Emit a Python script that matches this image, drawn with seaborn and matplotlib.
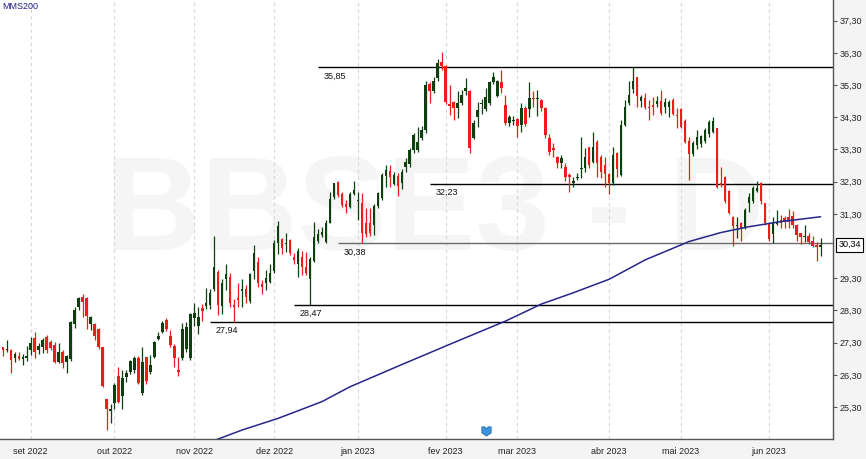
import numpy as np
import pandas as pd
import matplotlib
matplotlib.use("Agg")
import matplotlib.pyplot as plt
import matplotlib.transforms as mtransforms
from matplotlib.path import Path
import seaborn as sns

# BBSE3 daily candles, 23/08/2022 .. 21/06/2023
opens = [
    27.16, 27.07, 27.07, 26.81, 26.89, 26.78, 26.83, 27.06, 27.44, 27.06,
    27.16, 27.47, 27.33, 27.23, 26.71, 27.02, 26.71, 26.78, 27.88, 28.42,
    28.73, 28.70, 27.88, 27.88, 27.72, 27.16, 25.54, 25.18, 25.42, 26.27,
    25.65, 26.23, 26.40, 26.45, 26.81, 25.73, 26.85, 26.40, 26.85, 27.40,
    27.64, 28.01, 27.51, 27.20, 26.46, 26.82, 27.10, 26.82, 28.06, 27.82,
    28.37, 28.44, 28.47, 28.96, 29.51, 28.44, 29.27, 29.33, 28.47, 28.68,
    28.91, 28.96, 28.60, 29.54, 29.82, 29.12, 29.14, 29.19, 29.54, 30.41,
    30.51, 30.36, 30.48, 29.95, 29.74, 29.97, 29.66, 29.27, 29.85, 30.47,
    30.65, 30.44, 31.03, 31.83, 32.30, 31.92, 31.61, 31.52, 31.92, 31.70,
    31.64, 31.01, 31.03, 30.96, 31.55, 31.79, 32.48, 32.64, 32.23, 32.48,
    32.25, 32.77, 32.85, 33.29, 33.29, 33.65, 33.89, 35.33, 35.10, 35.51,
    36.03, 35.89, 34.71, 34.78, 34.58, 34.75, 35.13, 35.13, 33.65, 34.30,
    34.71, 34.55, 34.74, 35.38, 34.96, 35.38, 34.68, 34.13, 34.18, 34.24,
    34.06, 34.58, 34.55, 34.89, 34.86, 34.84, 34.58, 33.65, 33.34, 33.08,
    32.89, 32.75, 32.51, 32.27, 32.40, 32.69, 32.72, 33.37, 32.92, 33.54,
    33.06, 32.82, 32.54, 32.27, 33.20, 32.51, 34.06, 34.74, 35.17, 35.54,
    34.81, 34.89, 34.61, 34.68, 34.71, 34.81, 34.61, 34.61, 34.84, 34.37,
    34.55, 34.19, 33.57, 33.16, 33.44, 33.47, 33.57, 33.78, 33.85, 33.96,
    32.27, 32.46, 32.02, 31.21, 30.92, 31.03, 30.85, 31.65, 31.71, 32.02,
    32.27, 31.63, 31.03, 30.68, 30.98, 31.11, 31.16, 31.21, 31.23, 30.95,
    30.70, 30.57, 30.61, 30.47, 30.33, 30.26,
]
highs = [
    27.18, 27.37, 27.11, 27.02, 27.02, 26.95, 27.19, 27.47, 27.64, 27.30,
    27.44, 27.53, 27.38, 27.33, 27.28, 27.07, 26.92, 27.98, 28.40, 28.73,
    28.81, 28.73, 28.14, 27.90, 27.75, 27.16, 25.56, 25.40, 26.06, 26.54,
    26.45, 26.45, 26.76, 26.89, 26.89, 27.18, 26.87, 26.92, 27.36, 27.64,
    27.98, 28.06, 27.69, 27.26, 26.85, 27.92, 27.95, 28.23, 28.52, 28.40,
    28.50, 28.99, 28.96, 30.61, 29.56, 29.27, 29.74, 29.45, 28.65, 29.16,
    29.27, 29.09, 29.45, 30.33, 29.95, 29.25, 29.56, 29.74, 30.49, 31.09,
    30.54, 30.70, 30.52, 30.08, 30.23, 30.16, 30.13, 29.97, 31.06, 30.82,
    30.90, 31.11, 31.99, 32.27, 32.33, 31.99, 31.73, 31.99, 32.33, 31.99,
    31.96, 31.47, 31.47, 31.61, 31.99, 32.58, 32.82, 32.82, 32.61, 32.58,
    32.69, 33.03, 33.34, 33.80, 33.99, 34.03, 35.41, 35.38, 35.54, 36.10,
    36.31, 35.92, 35.30, 34.81, 35.10, 35.15, 35.51, 35.15, 34.22, 34.78,
    34.86, 35.20, 35.41, 35.72, 35.46, 35.77, 34.99, 34.37, 34.34, 34.27,
    34.74, 34.65, 35.38, 35.10, 35.15, 34.86, 34.63, 33.78, 33.51, 33.10,
    33.13, 32.87, 32.56, 32.44, 32.56, 33.70, 33.34, 33.39, 33.85, 33.60,
    33.13, 33.08, 32.58, 33.37, 33.23, 34.22, 34.84, 35.44, 35.85, 35.56,
    34.99, 35.06, 34.84, 34.92, 34.96, 35.15, 34.89, 34.84, 34.89, 34.58,
    34.58, 34.24, 33.68, 33.57, 33.91, 33.75, 33.96, 34.22, 34.30, 33.96,
    32.75, 32.48, 32.04, 31.23, 31.19, 31.06, 31.47, 31.94, 32.17, 32.33,
    32.30, 31.65, 31.06, 31.19, 31.42, 31.27, 31.23, 31.44, 31.40, 30.98,
    30.72, 30.95, 30.72, 30.61, 30.44, 30.54,
]
lows = [
    26.88, 27.02, 26.37, 26.71, 26.76, 26.61, 26.74, 26.92, 26.82, 26.95,
    26.97, 26.97, 27.07, 26.68, 26.66, 26.51, 26.37, 26.74, 27.75, 28.32,
    28.11, 27.72, 27.70, 27.38, 27.11, 25.93, 24.59, 24.80, 25.23, 25.42,
    25.23, 26.09, 26.33, 26.37, 26.02, 25.68, 26.02, 26.33, 26.81, 27.38,
    27.59, 27.67, 27.18, 26.54, 26.26, 26.76, 27.02, 26.76, 27.82, 27.57,
    27.98, 28.34, 28.34, 28.91, 28.16, 28.19, 28.94, 28.40, 27.94, 28.42,
    28.42, 28.54, 28.52, 29.27, 29.02, 28.81, 28.94, 29.16, 29.45, 30.06,
    30.06, 30.13, 30.03, 29.74, 29.33, 29.40, 29.40, 28.47, 29.79, 30.39,
    30.59, 30.41, 31.01, 31.75, 31.83, 31.52, 31.34, 31.47, 31.89, 31.11,
    30.38, 30.59, 30.62, 30.65, 31.47, 31.73, 32.14, 32.14, 32.20, 31.86,
    32.06, 32.61, 32.77, 33.18, 33.23, 33.60, 33.82, 34.73, 35.06, 35.44,
    35.77, 34.71, 34.37, 34.22, 34.27, 34.68, 34.99, 33.18, 33.62, 33.99,
    34.40, 34.50, 34.68, 35.33, 34.92, 35.06, 34.06, 34.03, 34.06, 33.70,
    33.85, 34.03, 34.32, 34.63, 34.34, 34.50, 33.65, 33.13, 33.08, 32.72,
    32.72, 32.33, 31.99, 32.12, 32.35, 32.40, 32.61, 32.72, 32.87, 32.44,
    32.40, 32.14, 31.92, 32.20, 32.44, 32.48, 34.03, 34.68, 35.04, 34.63,
    34.61, 34.55, 34.20, 34.37, 34.61, 34.37, 34.44, 34.32, 34.37, 33.96,
    33.96, 33.49, 32.35, 33.10, 33.31, 33.39, 33.51, 33.70, 33.80, 32.10,
    32.13, 31.65, 31.30, 30.30, 30.54, 30.47, 30.82, 31.37, 31.65, 31.99,
    31.61, 30.96, 30.47, 30.39, 30.96, 30.85, 30.85, 30.85, 30.85, 30.47,
    30.36, 30.44, 30.36, 30.26, 29.85, 29.99,
]
closes = [
    27.06, 27.10, 26.76, 26.94, 26.80, 26.87, 26.89, 27.30, 27.02, 27.20,
    27.37, 27.07, 27.13, 26.71, 27.02, 26.68, 26.89, 27.95, 28.32, 28.70,
    28.57, 28.14, 28.11, 27.51, 27.18, 25.96, 25.23, 25.23, 25.99, 25.47,
    26.19, 26.37, 26.74, 26.81, 26.06, 26.71, 26.12, 26.61, 27.33, 27.51,
    27.92, 27.72, 27.23, 26.82, 26.40, 27.72, 27.80, 28.19, 28.21, 28.11,
    28.29, 28.54, 28.83, 29.64, 28.47, 29.14, 29.43, 28.54, 28.42, 28.63,
    28.96, 28.73, 29.43, 30.10, 29.14, 29.02, 29.30, 29.46, 30.41, 30.92,
    30.23, 30.41, 30.08, 29.87, 30.16, 29.66, 29.46, 29.89, 30.57, 30.68,
    30.75, 31.01, 31.75, 32.25, 31.89, 31.58, 31.52, 31.92, 32.04, 31.73,
    30.72, 30.68, 30.72, 31.55, 31.96, 32.51, 32.66, 32.43, 32.51, 32.17,
    32.61, 32.92, 33.29, 33.75, 33.54, 33.91, 35.30, 35.13, 35.41, 35.98,
    35.89, 34.78, 34.65, 34.58, 34.75, 34.99, 35.20, 33.34, 34.13, 34.51,
    34.74, 34.94, 35.38, 35.56, 35.41, 35.20, 34.13, 34.30, 34.22, 34.03,
    34.58, 34.09, 34.89, 34.86, 34.89, 34.58, 33.75, 33.23, 33.29, 32.89,
    33.03, 32.44, 32.44, 32.33, 32.43, 32.72, 33.06, 32.82, 33.37, 32.89,
    32.61, 32.54, 32.27, 33.13, 32.69, 34.06, 34.61, 35.00, 35.41, 34.96,
    34.92, 34.63, 34.58, 34.63, 34.81, 34.42, 34.78, 34.78, 34.40, 34.34,
    33.99, 33.54, 33.16, 33.49, 33.68, 33.72, 33.91, 34.16, 34.19, 32.13,
    32.20, 31.71, 31.34, 30.92, 30.95, 30.82, 31.42, 31.82, 32.09, 32.09,
    31.71, 31.03, 30.51, 31.01, 31.06, 31.03, 31.06, 31.06, 30.95, 30.64,
    30.57, 30.61, 30.44, 30.30, 30.28, 30.34,
]

# B3 holidays inside the period
holidays = ["2022-09-07", "2022-10-12", "2022-11-02", "2022-11-15", "2022-12-30",
            "2023-02-20", "2023-02-21", "2023-04-07", "2023-04-21", "2023-05-01",
            "2023-06-08"]

# 200-day simple moving average, read at a few trading-day positions
mms_pos = [50, 54, 60, 69, 80, 87, 100, 113, 126, 135, 143, 152, 161, 172, 180, 187, 195, 205]
mms_val = [24.12, 24.31, 24.59, 24.95, 25.47, 25.93, 26.62, 27.30, 27.97, 28.50,
           28.85, 29.27, 29.87, 30.44, 30.72, 30.90, 31.06, 31.21]

# support / resistance lines drawn on the chart
level_val = [35.85, 32.23, 30.38, 28.47, 27.94]
level_from = [79, 107, 84, 73, 52]

month_names = ["jan", "fev", "mar", "abr", "mai", "jun",
               "jul", "ago", "set", "out", "nov", "dez"]
dividend_pos = 121

GREEN = "#0e3f0e"
RED = "#f01c1c"

dates = pd.bdate_range("2022-08-23", "2023-06-21")
dates = dates[~dates.isin(pd.to_datetime(holidays))]
df = pd.DataFrame({"date": dates, "open": opens, "high": highs,
                   "low": lows, "close": closes})
df["pos"] = np.arange(len(df))
df["color"] = np.where(df["close"] >= df["open"], GREEN, RED)

sns.set_theme(style="white")
plt.rcParams["font.family"] = ["Liberation Sans", "DejaVu Sans"]

fig = plt.figure(figsize=(8.66, 4.59), dpi=100)
fig.patch.set_facecolor("#f4f4f4")
ax = fig.add_axes([0, 20 / 459, 833 / 866, 439 / 459])
ax.set_facecolor("white")

x_left, x_right = -0.7, len(df) + 2.1
ax.set_xlim(x_left, x_right)
ax.set_ylim(24.31, 37.94)

# watermark
ax.text(0.522, 0.508, "BBSE3 - D", transform=ax.transAxes, ha="center", va="center",
        fontsize=96, fontweight="bold", color="#f5f5f5", zorder=0)

# month grid / ticks
first_days = df.groupby(df["date"].dt.to_period("M"))["pos"].min()
first_days = first_days[first_days.index >= pd.Period("2022-09", "M")]
ax.set_xticks(first_days.values)
ax.set_xticklabels([f"{month_names[p.month - 1]} {p.year}" for p in first_days.index])
ax.xaxis.grid(True, linestyle=(0, (3, 3)), color="#d6d6d6", linewidth=0.8)
ax.set_axisbelow(True)

# candles
ax.vlines(df["pos"], df["low"], df["high"], colors=df["color"], linewidth=0.9, zorder=3)
body_low = np.minimum(df["open"], df["close"])
body_h = np.maximum(np.abs(df["close"] - df["open"]), 0.03)
ax.bar(df["pos"], body_h, bottom=body_low, width=0.62, color=df["color"],
       linewidth=0, zorder=4)

# MMS200
sns.lineplot(x=mms_pos, y=mms_val, color="#25258c", linewidth=1.1, ax=ax, zorder=5)

# levels
for val, start in zip(level_val, level_from):
    col = "#6a6a6a" if val == 30.38 else "black"
    ax.hlines(val, start, x_right, color=col, linewidth=1.0, zorder=2)
    ax.annotate(f"{val:.2f}".replace(".", ","), xy=(start, val), xytext=(4, -3),
                textcoords="offset points", ha="left", va="top", fontsize=6.5,
                color="#111111")

# dividend marker
shield = Path([(-1, 1), (-0.35, 1), (0, 0.6), (0.35, 1), (1, 1), (1, -0.3),
               (0, -1), (-1, -0.3), (-1, 1)])
trans = mtransforms.blended_transform_factory(ax.transData, ax.transAxes)
ax.scatter([dividend_pos], [0.018], marker=shield, s=45, color="#3d94dc",
           edgecolor="#1d5f9a", linewidth=0.5, transform=trans, zorder=6, clip_on=False)

# y axis on the right
last = closes[-1]
yticks = [t for t in np.arange(25.3, 37.31, 1.0) if abs(t - last) > 0.5]
ax.set_yticks(yticks)
ax.set_yticklabels([f"{t:.2f}".replace(".", ",") for t in yticks])
ax.yaxis.tick_right()
ax.tick_params(axis="y", right=True, left=False, length=3, width=0.8, color="#555555",
               pad=2, labelsize=6.5, labelcolor="#222222")
ax.tick_params(axis="x", bottom=True, length=0, pad=6, labelsize=6.5, labelcolor="#222222")

ax.annotate(f"{last:.2f}".replace(".", ","), xy=(1, last),
            xycoords=("axes fraction", "data"), xytext=(4, 0), textcoords="offset points",
            ha="left", va="center", fontsize=6.5, color="black", annotation_clip=False,
            bbox=dict(boxstyle="square,pad=0.25", fc="white", ec="black", lw=0.8))

for side in ["top", "left"]:
    ax.spines[side].set_visible(False)
for side in ["right", "bottom"]:
    ax.spines[side].set_color("#555555")
    ax.spines[side].set_linewidth(1.0)

fig.text(2 / 866, 1 - 2 / 459, "MMS200", ha="left", va="top", fontsize=6.5, color="#1e1e86")

fig.savefig("out.png", dpi=100, facecolor=fig.get_facecolor())
